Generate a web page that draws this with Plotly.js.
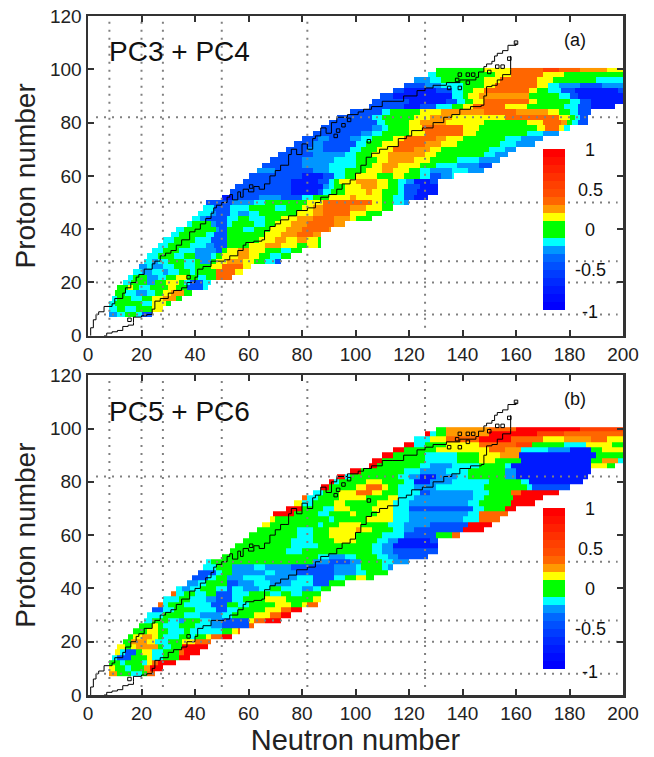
<!DOCTYPE html>
<html><head><meta charset="utf-8">
<script src="https://cdn.plot.ly/plotly-3.0.1.min.js"></script>
<style>html,body{margin:0;padding:0;background:#fff}</style></head>
<body><div id="chart" style="width:654px;height:757px"></div>
<script>
// Proton number of each row; each row reads "firstNeutron level@endNeutron ..."
const protonRows=[8,10,12,14,16,18,20,22,24,26,28,30,32,34,36,38,40,42,44,46,48,50,52,54,56,58,60,62,64,66,68,70,72,74,76,78,80,82,84,86,88,90,92,94,96,98,100];
const levelValues={D:-0.75,b:-0.45,l:-0.25,c:-0.15,g:0,y:0.15,o:0.25,O:0.35,r:0.55,R:0.9};
const runsA=[
"8 l11 c14 g18 c20 b24",
"8 c11 g14 c18 g24 y28",
"8 c10 g20 c24 y29 g31",
"9 c11 g16 c20 g24 y28 o33 g35",
"10 g14 c18 l22 c25 g28 y31 o36 g39",
"11 g15 y17 g19 c23 g30 y33 g37 b43 c45",
"13 c16 g22 l25 g29 y34 g36 c38 b43 c46",
"15 c17 g22 l26 c29 g33 y37 g41 c44 g48 O54",
"17 c20 l24 c28 l30 c34 g38 c40 g48 O55 y58",
"19 l22 c24 l28 c32 g36 c40 g46 y50 O58 y61",
"21 c24 l26 c30 g36 c40 g42 l46 g48 y52 o58 y62 g66 c70 b72",
"22 c26 g32 c36 g40 l46 c48 g50 y56 o60 y64 g68 c72 g76",
"24 c28 g34 c40 l48 b50 g52 y56 o60 y66 g72 c76 g80",
"26 c30 g38 c44 l47 b52 g60 y66 o72 y78 g82 y86 g87",
"28 c32 g40 c46 b52 g64 y70 o74 y78 o82 y86 g87",
"31 c34 g44 c47 b52 g66 y72 o78 O84 o87",
"33 c36 g48 l49 b52 g58 c62 g68 y74 o80 O90 o91",
"37 c39 g46 l48 b52 c54 g62 c66 g70 y76 o82 O92 o96",
"39 c42 l44 b52 c56 g60 c66 g72 y78 o84 O92 o98 y100 g106",
"41 c46 l48 b53 c56 l60 c64 g78 y84 o88 O98 y104 g110",
"43 c47 b53 c60 g70 c74 g80 y84 o88 O98 o104 y110 g114",
"44 b54 l62 c66 g82 y88 O106 y110 g114 c118 l120",
"50 D54 b64 l72 b80 c84 g90 y98 o100 y110 g114 c118 b122 D127",
"53 b76 D86 b88 c91 g96 y104 o106 y110 g116 c118 b123 D131",
"55 b76 D88 l90 c92 g96 y102 o108 y112 g116 c118 b124 D131",
"58 b76 D86 b90 c92 g94 y100 o108 y112 g116 c119 l122 D128 b131",
"60 b80 D88 b92 c96 g100 y108 g114 y118 g124 c128 b132 l136 c137",
"63 l70 b84 l90 c96 g104 y110 o114 y120 g124 c128 l136 c142 l148",
"65 b80 l90 c100 g106 y110 o116 y124 g130 c138 l146 b151",
"68 b80 l92 c100 g108 y112 o122 y128 g138 c146 l154",
"71 b84 l96 c100 g106 y112 o126 y130 g148 c152 l157",
"74 b82 l88 b98 c102 g108 y114 O122 o128 y132 g150 c156 l160",
"77 b84 l88 b100 c104 g110 y116 O126 o132 y138 g154 c160 l167",
"80 b86 l90 b98 l102 c106 g114 y118 O130 o134 y140 g156 c162 l170",
"84 b102 l106 c110 g120 y126 O140 y145 g164 c170 l176",
"87 b106 l110 c112 g120 y125 O140 y146 g168 y171 O176 y178 c180",
"90 b108 c111 g120 y124 o134 y148 g164 y170 O177 o179 g181 c183 b187",
"93 b106 c110 g122 y128 o136 y156 O176 y180 g182 c184 b187",
"98 b110 c113 g124 y132 o148 O160 o172 y176 g180 c183 b188",
"105 b118 D124 b130 c136 g140 y144 O156 y164 g178 c183 b188 D197",
"106 b120 D134 b138 c141 g144 y148 O165 y168 g180 c184 b188 D200",
"109 b114 D136 c140 g142 y146 o165 g176 c180 b183 D200",
"114 b118 D130 b136 c140 g144 y148 O165 y168 g172 c177 b182 D198 b200",
"118 b126 l132 c140 g148 y152 O168 y172 c176 l184 b192 l200",
"122 l128 c132 g148 y154 O168 y174 g190 c200",
"127 c130 g152 y158 O170 y178 g200",
"130 g148 y158 O170 r176 O184 o194 y200"];
const runsB=[
"8 o11 g16 c20 g22 O25",
"8 y10 g14 c16 g21 o23 R28",
"8 g12 c14 g20 c22 y24 O26 R33",
"9 c11 b16 g22 y24 c28 g34 R38",
"10 y12 c14 b18 g20 y24 c28 g34 O36 R42",
"11 y14 g16 y18 o26 g28 c31 g35 R45",
"13 g16 o22 y25 c30 g35 y40 O46",
"15 g17 y20 o24 y26 g28 c34 g38 c40 g44 y46 O50 R54",
"17 g22 y26 g30 c36 g38 c50 g54 y56 O57",
"19 g24 y26 g28 c34 g40 c46 l50 b60 O62",
"21 c24 g30 c34 l36 g42 c46 l50 b60 y62 O66 R72",
"22 c28 g36 c42 l50 c54 g62 y68 O72 R76",
"24 b28 c32 g40 c48 b52 c56 g66 y72 O76 R80",
"26 O28 c30 g36 c46 b52 g56 c60 g70 y76 g80 y82 O86",
"28 c34 g38 c44 l48 b54 c58 g66 y74 g84 y87",
"31 O33 c36 g40 c44 g48 b54 c60 g68 c72 g76 c80 g87",
"33 c35 l38 c42 g48 c52 b54 c58 l64 c68 g72 c80 l84 c87 g91",
"37 l41 c44 g52 b56 l62 c68 l76 c84 b90 g96",
"39 b45 c48 g52 l58 c66 l78 c84 b92 c96 g100 y104 g107",
"41 b48 c50 g54 l66 c70 l78 b92 l100 c104 g112",
"43 c48 g54 l62 c66 l76 b92 l100 c102 g110 c112 l114",
"44 c46 g84 l90 b98 l102 g110 c114 l120",
"50 g86 c90 l96 c100 g108 c112 l116 b127",
"53 g74 c80 g106 c110 l114 b131",
"55 g76 c86 g106 c110 l114 D131",
"58 g76 c84 g92 y100 g108 c112 l116 D128 b131",
"60 g78 c84 g90 y100 g110 c118 b130 g136 O139",
"63 g78 c84 g90 y100 o102 y106 g114 c118 l122 b140 R148",
"65 y68 g86 c88 g94 y102 g112 c118 l128 b142 R151",
"68 y70 g90 c92 g104 y114 c120 l140 c146 O154",
"69 R77 g86 c90 g98 y100 g108 y114 c120 l142 c146 O157",
"74 R80 g88 c92 y98 g106 y114 c120 b144 c148 g156 R160",
"77 y80 c84 g92 y96 g108 y114 c120 l142 c146 g158 R167",
"80 O82 c86 g94 y104 g112 y116 c122 l144 c148 g159 R170",
"84 c88 g94 y100 O106 y110 g116 c124 b128 l144 c150 g158 O162 R176",
"87 R90 g100 y104 O110 y112 g116 c122 l130 c148 g164 c166 b180",
"90 R92 c94 g104 y110 g118 c122 D128 l136 c150 g162 c165 D185",
"93 R96 c98 g116 c120 l124 D130 l138 c142 g156 l160 D187",
"98 R102 g118 c124 l134 c142 g156 l160 D188",
"105 R108 g124 c128 l136 c146 g156 c158 D188 y194 g197",
"106 R110 g126 c138 g146 y152 g162 D188 g192 o198 c200",
"110 R114 g126 c138 g146 y154 o161 D190 g200",
"114 R118 g130 y150 O156 o162 c172 l180 D188 g192 y200",
"118 R122 c126 g134 y146 O160 r166 g178 c186 y196 g200",
"122 c128 y134 O146 R158 O170 y178 o188 O194 y200",
"126 R128 c130 g134 o150 R168 r178 O200",
"130 g134 o150 O160 R184 r200"];
// Drip lines
const upperN=[1,1,2,3,4,6,9,10,13,14,16,18,19,21,24,25,27,29,31,33,35,38,40,42,44,46,47,48,50,52,53,54,56,57,58,60,62,64,66,68,70,72,74,75,76,78,80,82,84,85,87,89,91,93,97,101,103,106,110,114,118,123,126,129,134,139,145,146,148,149,151,152,153,155,157,160];
const upperZ=[0,3,6,8,9,11,12,14,16,18,20,22,23,25,27,28,30,31,32,34,36,39,40,42,44,46,48,49,50,52,53,51,54,52,55,54,56,55,57,60,62,64,64,68,70,68,72,70,74,75,78,76,80,82,83,84,85,86,88,88,90,92,93,94,95,96,97,99,101,102,103,105,106,107,109,110];
const lowerN=[6,7,9,11,13,15,17,17,20,22,24,25,27,30,32,35,37,40,41,43,46,51,53,56,58,59,62,65,66,68,70,72,75,78,82,85,87,90,93,95,98,100,102,104,106,109,112,116,119,121,125,129,133,136,139,143,147,148,149,151,153,155,158,158];
const lowerZ=[0,1,1.5,2,3.5,4,5,7,7.5,8,10,13,14,16,17,18,20,22,25,26,28,28.5,30,32,34,35,35.5,36,39.5,41,42,43.5,45,47,48,50,52,53,55,57,58.5,61,64,67,68.5,70,71,74,75,77,78,80,82,83,85,86,86.5,90,93.5,94,96,98,100,105];
// Isolated nuclides outside the main outlines
const islandN=[15.5,37.6,61,92.6,93.5,95.5,97.6,105,135,139,138,142,139,142,144,150,153,155,157.5,160];
const islandZ=[6,22,56,75,77,79,81,73,93,93,96,95,98,98,98,99,101,101,104,110];
// Magic numbers (dotted guides)
const magicN=[8,20,28,50,82,126];
const magicZ=[8,20,28,50,82];
const tickX=[0,20,40,60,80,100,120,140,160,180,200];
const tickY=[0,20,40,60,80,100,120];
const barLabels=["1","0.5","0","-0.5","-1"];
const barLabelValues=[1,0.5,0,-0.5,-1];
const bandColors=["#0000ff","#000cff","#001aff","#002aff","#003cff","#0050ff","#0068ff","#0096ff","#00ffff","#00ff00","#00ff00","#ffff00","#ff9900","#ff6600","#ff4d00","#ff4000","#ff3000","#ff2000","#ff1000","#ff0000"];

const colorscale=[];
bandColors.forEach((c,i)=>{colorscale.push([i/bandColors.length,c]);colorscale.push([(i+1)/bandColors.length,c]);});
const xEdges=Array.from({length:201},(_,i)=>i);
const yEdges=protonRows.map(z=>z-1).concat([100.5]);
function expand(runs){
  return runs.map(r=>{
    const row=new Array(200).fill(null);
    const t=r.split(" ");let s=+t[0];
    t.slice(1).forEach(k=>{const e=+k.slice(1);const v=levelValues[k[0]];for(let n=s;n<e&&n<200;n++)row[n]=v;s=e;});
    return row;});
}
const W=654,H=757,L=88,R=623,T=16,B=695.5;
const pw=B-T;
function panel(runs,ax,ay,barCenterPx){
  const out=[];
  out.push({type:"heatmap",x:xEdges,y:yEdges,z:expand(runs),xaxis:ax,yaxis:ay,colorscale,zmin:-1,zmax:1,hoverinfo:"skip",
    colorbar:{x:(543-L)/(R-L),xanchor:"left",y:(B-barCenterPx)/pw,yanchor:"middle",thickness:22,thicknessmode:"pixels",len:161,lenmode:"pixels",xpad:0,ypad:0,outlinewidth:0,ticks:"",showticklabels:false,tickvals:[]}});
  out.push({type:"scatter",mode:"lines",x:upperN,y:upperZ,xaxis:ax,yaxis:ay,line:{color:"#000",width:1,shape:"hv"},hoverinfo:"skip"});
  out.push({type:"scatter",mode:"lines",x:lowerN,y:lowerZ,xaxis:ax,yaxis:ay,line:{color:"#000",width:1,shape:"hv"},hoverinfo:"skip"});
  out.push({type:"scatter",mode:"markers",x:islandN,y:islandZ,xaxis:ax,yaxis:ay,marker:{symbol:"square-open",size:3.5,color:"#000",line:{width:1,color:"#000"}},hoverinfo:"skip"});
  magicN.forEach(n=>out.push({type:"scatter",mode:"lines",x:[n,n],y:[3,118],xaxis:ax,yaxis:ay,line:{color:"#808080",width:2,dash:"2px,6px"},hoverinfo:"skip"}));
  magicZ.forEach(z=>out.push({type:"scatter",mode:"lines",x:[3,198],y:[z,z],xaxis:ax,yaxis:ay,line:{color:"#808080",width:2,dash:"2px,6px"},hoverinfo:"skip"}));
  return out;
}
const data=panel(runsA,"x","y",229.5).concat(panel(runsB,"x2","y2",588.5));
function xa(anchor){return {range:[0,200],domain:[0,1],anchor,tickmode:"array",tickvals:tickX,ticks:"inside",ticklen:6,tickwidth:2,tickcolor:"#333",linecolor:"#333",linewidth:2.5,mirror:"ticks",showgrid:false,zeroline:false,tickfont:{family:"Liberation Sans",size:19,color:"#222"}};}
function ya(anchor,dom){return {range:[0,120],domain:dom,anchor,tickmode:"array",tickvals:tickY,ticks:"inside",ticklen:6,tickwidth:2,tickcolor:"#333",linecolor:"#333",linewidth:2.5,mirror:"ticks",showgrid:false,zeroline:false,tickfont:{family:"Liberation Sans",size:19,color:"#222"},title:{text:"Proton number",font:{family:"Liberation Sans",size:28,color:"#222"},standoff:6}};}
const anns=[];
function label(text,xr,yr,n,z,size,anchor){anns.push({text,xref:xr,yref:yr,x:n,y:z,showarrow:false,xanchor:anchor,yanchor:"middle",font:{family:"Liberation Sans",size,color:"#111"}});}
[["x","y","PC3 + PC4","(a)"],["x2","y2","PC5 + PC6","(b)"]].forEach(p=>{
  label(p[2],p[0],p[1],7,106.5,28,"left");
  label(p[3],p[0],p[1],182,111,18,"center");
  barLabels.forEach((t,i)=>label(t,p[0],p[1],187.7,39.7+barLabelValues[i]*30.2-(t==="-1"?0.7:0),18,"center"));
});
const layout={width:W,height:H,margin:{l:L,r:W-R,t:T,b:H-B,pad:0},paper_bgcolor:"#fff",plot_bgcolor:"#fff",showlegend:false,
  xaxis:xa("y"),yaxis:ya("x",[(B-336)/pw,1]),
  xaxis2:Object.assign(xa("y2"),{title:{text:"Neutron number",font:{family:"Liberation Sans",size:29,color:"#222"},standoff:6}}),
  yaxis2:ya("x2",[0,(B-375.5)/pw]),annotations:anns};
Plotly.newPlot("chart",data,layout,{displayModeBar:false,staticPlot:true});
</script></body></html>
